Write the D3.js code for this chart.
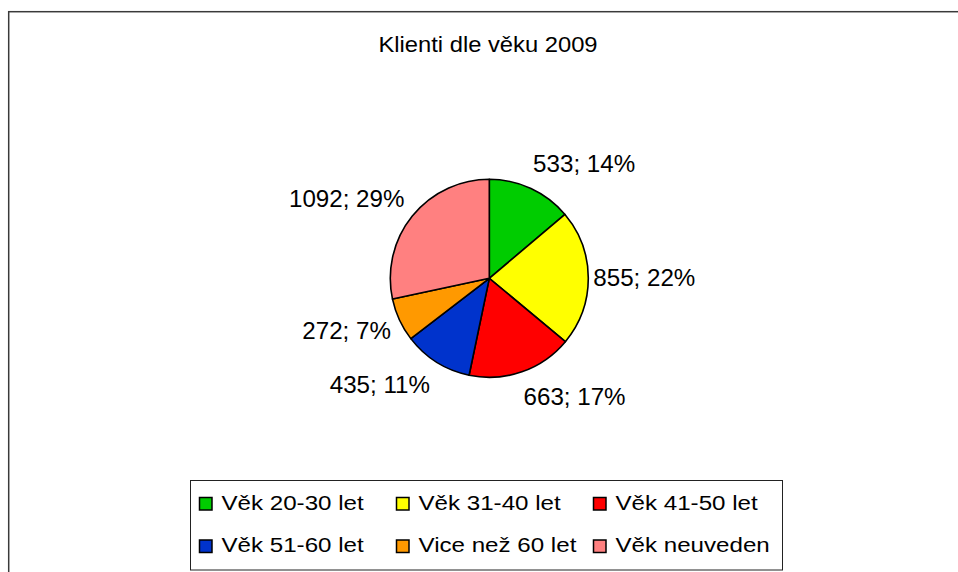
<!DOCTYPE html>
<html>
<head>
<meta charset="utf-8">
<script src="https://cdn.jsdelivr.net/npm/d3@7"></script>
<style>
  body { margin: 0; background: #fff; }
  text { font-family: "Liberation Sans", Arial, sans-serif; fill: #000; }
</style>
</head>
<body>
<svg id="chart" width="958" height="572"></svg>
<script>
  // data
  var title = 'Klienti dle věku 2009';
  var categories = ['Věk 20-30 let', 'Věk 31-40 let', 'Věk 41-50 let', 'Věk 51-60 let', 'Vice než 60 let', 'Věk neuveden'];
  var clients = [533, 855, 663, 435, 272, 1092];
  var percents = ['14%', '22%', '17%', '11%', '7%', '29%'];
  var colors = ['#00cc00', '#ffff00', '#ff0000', '#0033cc', '#ff9900', '#ff8080'];

  var svg = d3.select('#chart');
  var cx = 489.3, cy = 278.3, radius = 99;

  var color = d3.scaleOrdinal().domain(categories).range(colors);

  // chart area border (runs off the right and bottom of the picture)
  svg.append('rect')
    .attr('x', 8.7)
    .attr('y', 11.7)
    .attr('width', 1000)
    .attr('height', 1000)
    .style('fill', 'none')
    .style('stroke', '#3a3a3a')
    .style('stroke-width', 1.5);

  svg.append('text')
    .attr('transform', 'translate(488,51.5) scale(1.08,1)')
    .attr('text-anchor', 'middle')
    .style('font-size', '22px')
    .text(title);

  var rows = categories.map(function(c, i) {
    return { name: c, value: clients[i], pct: percents[i] };
  });

  var pie = d3.pie().sort(null).value(function(d) { return d.value; });
  var arc = d3.arc().innerRadius(0).outerRadius(radius);

  var g = svg.append('g').attr('transform', 'translate(' + cx + ',' + cy + ')');

  g.selectAll('path')
      .data(pie(rows))
    .enter().append('path')
      .attr('d', arc)
      .style('fill', function(d) { return color(d.data.name); })
      .style('stroke', '#000')
      .style('stroke-width', 1.6)
      .style('stroke-linejoin', 'round');

  // data labels outside the slices
  var labelR = radius + 5;
  g.selectAll('text.lbl')
      .data(pie(rows))
    .enter().append('text')
      .attr('class', 'lbl')
      .style('font-size', '23px')
      .attr('text-anchor', function(d) {
        var a = (d.startAngle + d.endAngle) / 2;
        return Math.sin(a) > 0 ? 'start' : 'end';
      })
      .attr('transform', function(d) {
        var a = (d.startAngle + d.endAngle) / 2;
        var s = Math.sin(a), c = Math.cos(a);
        var x = labelR * s + (s > 0 ? 0 : -4);
        var y = -labelR * c - c * 22 + 8.2;
        return 'translate(' + x + ',' + y + ') scale(1.05,1)';
      })
      .text(function(d) { return d.data.value + '; ' + d.data.pct; });

  // legend
  var legendX = 190.5, legendY = 480.5;
  var colX = d3.scaleBand().domain([0, 1, 2]).range([legendX + 8.5, legendX + 8.5 + 3 * 197]);
  var rowY = d3.scalePoint().domain([0, 1]).range([509.5, 552]);

  svg.append('rect')
    .attr('x', legendX)
    .attr('y', legendY)
    .attr('width', 592)
    .attr('height', 89.5)
    .style('fill', '#fff')
    .style('stroke', '#222')
    .style('stroke-width', 1);

  var item = svg.selectAll('g.item')
      .data(categories)
    .enter().append('g')
      .attr('class', 'item')
      .attr('transform', function(d, i) {
        return 'translate(' + colX(i % 3) + ',' + rowY(Math.floor(i / 3)) + ')';
      });

  item.append('rect')
    .attr('x', 0.5)
    .attr('y', -12)
    .attr('width', 12.5)
    .attr('height', 12.5)
    .style('fill', function(d) { return color(d); })
    .style('stroke', '#000')
    .style('stroke-width', 1.5);

  item.append('text')
    .attr('transform', 'translate(22.5,0) scale(1.15,1)')
    .style('font-size', '21px')
    .text(function(d) { return d; });
</script>
</body>
</html>
